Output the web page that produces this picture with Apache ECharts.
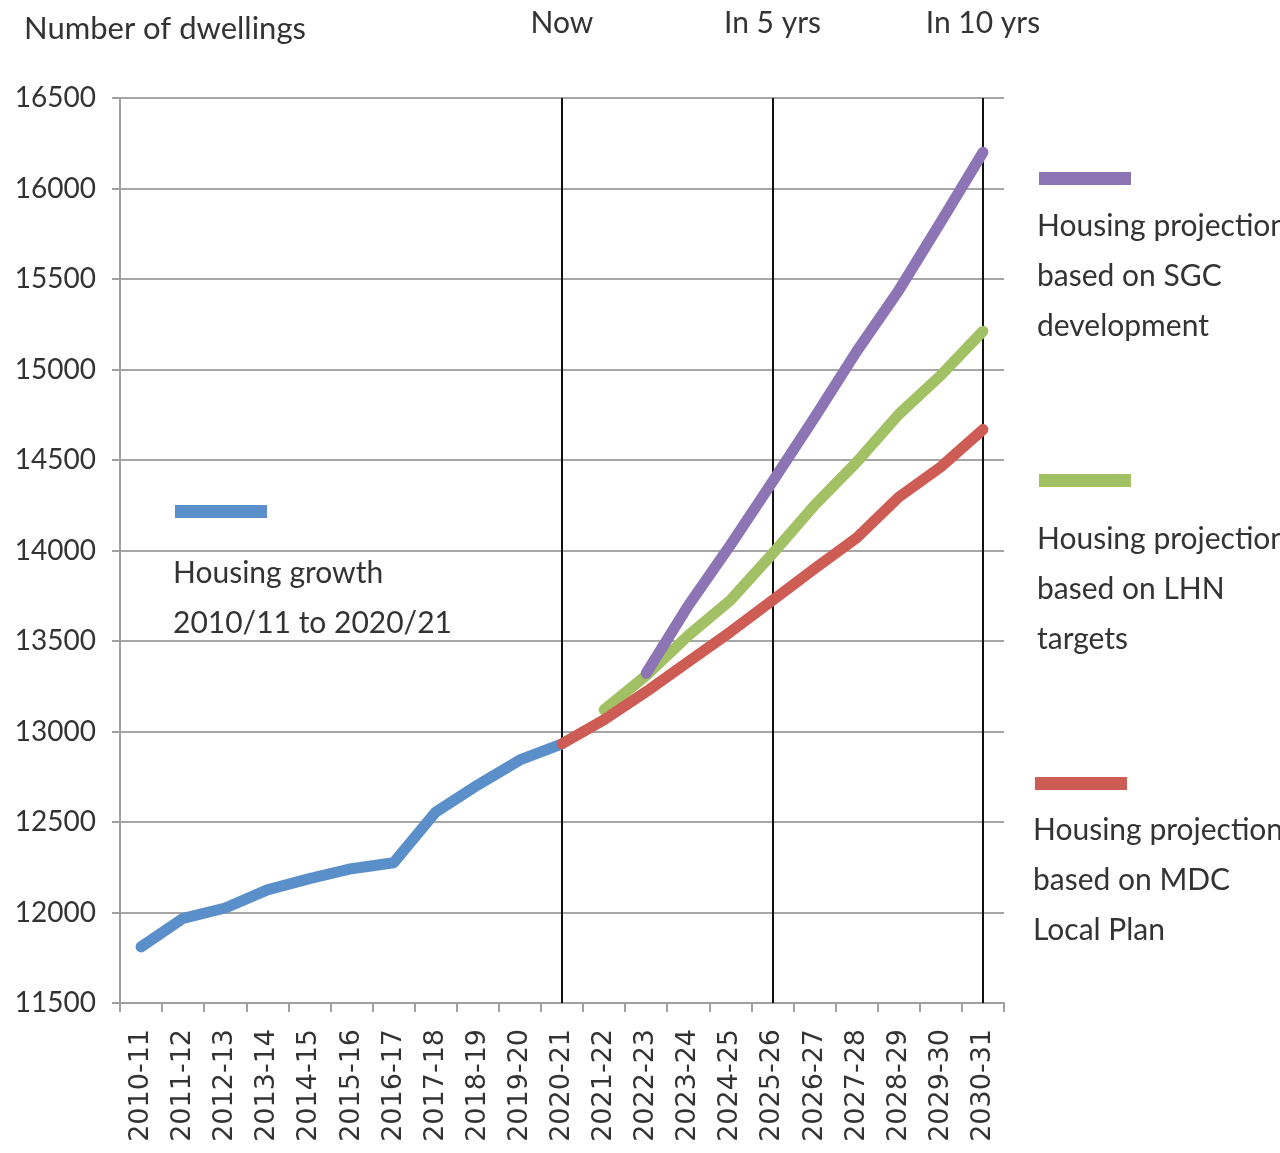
<!DOCTYPE html>
<html><head><meta charset="utf-8">
<script src="https://cdn.jsdelivr.net/npm/echarts@6/dist/echarts.min.js"></script>
<style>html,body{margin:0;padding:0;background:#fff}#chart{width:1280px;height:1153px}</style>
</head><body><div id="chart"></div>
<script>
const categories = ['2010-11','2011-12','2012-13','2013-14','2014-15','2015-16','2016-17','2017-18','2018-19','2019-20','2020-21','2021-22','2022-23','2023-24','2024-25','2025-26','2026-27','2027-28','2028-29','2029-30','2030-31'];
const growth = [11810, 11968, 12025, 12125, 12187, 12242, 12275, 12555, 12705, 12843, 12932, null, null, null, null, null, null, null, null, null, null];
const mdcPlan = [null, null, null, null, null, null, null, null, null, null, 12932, 13065, 13220, 13385, 13550, 13725, 13900, 14070, 14295, 14462, 14668];
const lhnTargets = [null, null, null, null, null, null, null, null, null, null, null, 13120, 13310, 13530, 13725, 13982, 14250, 14488, 14752, 14968, 15212];
const sgcDevelopment = [null, null, null, null, null, null, null, null, null, null, null, null, 13322, 13695, 14030, 14380, 14735, 15100, 15437, 15815, 16200];
const yMin = 11500, yMax = 16500, yStep = 500;
const markerCats = ['2020-21', '2025-26', '2030-31'];
const markerLabels = ['Now', 'In 5 yrs', 'In 10 yrs'];
const seriesNames = ['Housing growth\n2010/11 to 2020/21', 'Housing projection\nbased on SGC\ndevelopment', 'Housing projection\nbased on LHN\ntargets', 'Housing projection\nbased on MDC\nLocal Plan'];
const colors = { blue: '#5a8fca', purple: '#8d74b4', green: '#a2c164', red: '#cd5c55' };

const chart = echarts.init(document.getElementById('chart'));
const textFont = 'Lato, "Open Sans", sans-serif';

function lineSeries(name, data, color, extra) {
  return Object.assign({
    name: name, type: 'line', data: data, showSymbol: false, symbol: 'none',
    connectNulls: false,
    lineStyle: { color: color, width: 11, cap: 'round', join: 'round' },
    itemStyle: { color: color }
  }, extra || {});
}

function legendBlock(x, yRect, color, text, yText) {
  return [
    { type: 'rect', left: x, top: yRect, shape: { width: 92, height: 13 }, style: { fill: color } },
    { type: 'text', left: x - 2, top: yText, style: { text: text, font: '30px ' + textFont, fill: '#333', lineHeight: 50 } }
  ];
}

chart.setOption({
  animation: false,
  backgroundColor: '#fff',
  title: { text: 'Number of dwellings', left: 19, top: 8, textStyle: { fontFamily: textFont, fontSize: 31, fontWeight: 'normal', color: '#333' } },
  grid: { left: 120, right: 276, top: 98, bottom: 150 },
  xAxis: {
    type: 'category', data: categories, boundaryGap: true,
    axisLine: { lineStyle: { color: '#a0a0a0', width: 2 } },
    axisTick: { show: true, length: 9, lineStyle: { color: '#a0a0a0', width: 2 } },
    axisLabel: { rotate: 90, margin: 26, fontFamily: '"DejaVu Sans"', fontSize: 27, color: '#333', interval: 0 },
    splitLine: { show: false }
  },
  yAxis: {
    type: 'value', min: yMin, max: yMax, interval: yStep,
    axisLine: { show: true, lineStyle: { color: '#a0a0a0', width: 2 } },
    axisTick: { show: true, length: 8, lineStyle: { color: '#a0a0a0', width: 2 } },
    axisLabel: { margin: 24, fontFamily: textFont, fontSize: 28, color: '#333', formatter: function (v) { return String(v); } },
    splitLine: { show: true, lineStyle: { color: '#a6a6a6', width: 2 } }
  },
  series: [
    lineSeries(seriesNames[0], growth, colors.blue, {
      markLine: {
        silent: true, symbol: 'none', z: 1,
        lineStyle: { color: '#111', width: 2, type: 'solid' },
        label: {
          show: true, position: 'end', distance: 60,
          fontFamily: textFont, fontSize: 30, color: '#333',
          formatter: function (p) { return markerLabels[p.dataIndex]; }
        },
        data: markerCats.map(function (c) { return { xAxis: c }; })
      }
    }),
    lineSeries(seriesNames[2], lhnTargets, colors.green),
    lineSeries(seriesNames[1], sgcDevelopment, colors.purple),
    lineSeries(seriesNames[3], mdcPlan, colors.red)
  ],
  graphic: [].concat(
    legendBlock(175, 505, colors.blue, seriesNames[0], 548),
    legendBlock(1039, 172, colors.purple, seriesNames[1], 201),
    legendBlock(1039, 474, colors.green, seriesNames[2], 514),
    legendBlock(1035, 777, colors.red, seriesNames[3], 805)
  )
});
</script></body></html>
